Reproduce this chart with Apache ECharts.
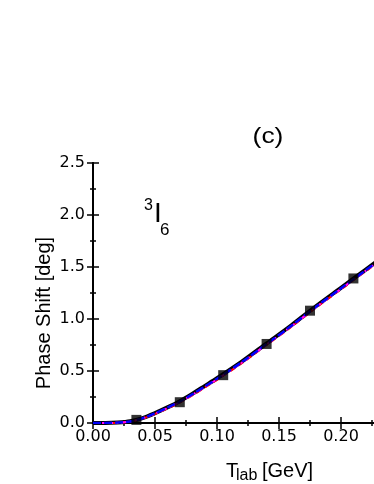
<!DOCTYPE html>
<html>
<head>
<meta charset="utf-8">
<script src="https://cdn.jsdelivr.net/npm/echarts@6/dist/echarts.min.js"></script>
<style>
  html, body { margin: 0; padding: 0; background: #fff; }
  #chart { width: 374px; height: 484px; }
</style>
</head>
<body>
<div id="chart"></div>
<script>
// T_lab [GeV]
const tlab = [0, 0.01, 0.02, 0.03, 0.04, 0.05, 0.06, 0.07, 0.08, 0.09, 0.10, 0.12, 0.14, 0.16, 0.18, 0.20, 0.22, 0.24, 0.25];
// model curves (phase shift, deg)
const solidBlack = [0, 0, 0.004, 0.016, 0.047, 0.095, 0.15, 0.21, 0.28, 0.355, 0.43, 0.59, 0.765, 0.94, 1.125, 1.30, 1.475, 1.65, 1.74];
const dashRed    = [0, 0, 0.003, 0.013, 0.042, 0.087, 0.14, 0.197, 0.265, 0.34, 0.415, 0.575, 0.75, 0.925, 1.11, 1.285, 1.46, 1.635, 1.725];
const dashDotMag = [0, 0, 0.003, 0.014, 0.044, 0.09, 0.145, 0.202, 0.27, 0.345, 0.42, 0.58, 0.755, 0.93, 1.115, 1.29, 1.465, 1.64, 1.73];
const dashBlue   = [0, 0, 0.004, 0.015, 0.046, 0.093, 0.148, 0.206, 0.275, 0.35, 0.425, 0.585, 0.76, 0.935, 1.12, 1.295, 1.47, 1.645, 1.735];
// PWA points
const pwaX = [0.035, 0.07, 0.105, 0.14, 0.175, 0.21];
const pwaY = [0.03, 0.20, 0.46, 0.76, 1.08, 1.39];

const pair = (xs, ys) => xs.map((x, i) => [x, ys[i]]);
const font = 'Liberation Sans, Arial, sans-serif';
const tickFont = 'DejaVu Sans, sans-serif';

const chart = echarts.init(document.getElementById('chart'));

const axisCommon = {
  axisLine: { lineStyle: { color: '#000', width: 2 } },
  axisTick: { inside: true, length: 6, lineStyle: { color: '#000', width: 1.5 } },
  minorTick: { show: true, splitNumber: 2, length: 3, lineStyle: { color: '#000', width: 1.5 } },
  splitLine: { show: false }
};

chart.setOption({
  animation: false,
  grid: { left: 93, top: 163, width: 310, height: 260, outerBoundsMode: 'none', containLabel: false },
  xAxis: [
    Object.assign({
      type: 'value', min: 0, max: 0.25, interval: 0.05,
      axisLabel: { color: '#000', fontSize: 16, fontFamily: tickFont, margin: 6,
        formatter: v => v.toFixed(2) }
    }, axisCommon),
    Object.assign({
      type: 'value', position: 'top', min: 0, max: 0.25, interval: 0.05,
      axisLabel: { show: false }
    }, axisCommon)
  ],
  yAxis: [
    Object.assign({
      type: 'value', min: 0, max: 2.5, interval: 0.5,
      axisLabel: { color: '#000', fontSize: 16, fontFamily: tickFont, margin: 8,
        formatter: v => v.toFixed(1) }
    }, axisCommon),
    Object.assign({
      type: 'value', position: 'right', min: 0, max: 2.5, interval: 0.5,
      axisLabel: { show: false }
    }, axisCommon)
  ],
  graphic: [
    { type: 'text', x: 268, y: 137, scaleX: 1.2,
      style: { text: '(c)', font: '22px ' + font, fill: '#000', align: 'center', verticalAlign: 'middle' } },
    // 3I6 label
    { type: 'text', x: 144, y: 198,
      style: { text: '3', font: '16px ' + font, fill: '#000' } },
    { type: 'text', x: 154, y: 200,
      style: { text: 'I', font: '28px ' + font, fill: '#000' } },
    { type: 'text', x: 160, y: 222,
      style: { text: '6', font: '17px ' + font, fill: '#000' } },
    // axis titles
    { type: 'text', x: 44, y: 313, rotation: Math.PI / 2,
      style: { text: 'Phase Shift [deg]', font: '20px ' + font, fill: '#000',
        align: 'center', verticalAlign: 'middle' } },
    { type: 'text', x: 226, y: 461,
      style: { text: 'T', font: '20px ' + font, fill: '#000' } },
    { type: 'text', x: 236, y: 468,
      style: { text: 'lab', font: '16px ' + font, fill: '#000' } },
    { type: 'text', x: 262, y: 461,
      style: { text: '[GeV]', font: '20px ' + font, fill: '#000' } }
  ],
  series: [
    { type: 'line', data: pair(tlab, solidBlack), smooth: 0.3, showSymbol: false,
      lineStyle: { color: '#000', width: 4 } },
    { type: 'line', data: pair(tlab, dashRed), smooth: 0.3, showSymbol: false,
      lineStyle: { color: '#ff0000', width: 2, type: [6, 4] } },
    { type: 'line', data: pair(tlab, dashDotMag), smooth: 0.3, showSymbol: false,
      lineStyle: { color: '#ff00ff', width: 2, type: [6, 3, 2, 3] } },
    { type: 'line', data: pair(tlab, dashBlue), smooth: 0.3, showSymbol: false,
      lineStyle: { color: '#0000ff', width: 2.5, type: [8, 3] } },
    { type: 'scatter', data: pair(pwaX, pwaY), symbol: 'rect', symbolSize: 10,
      itemStyle: { color: '#000' }, z: 5 }
  ]
});
</script>
</body>
</html>
